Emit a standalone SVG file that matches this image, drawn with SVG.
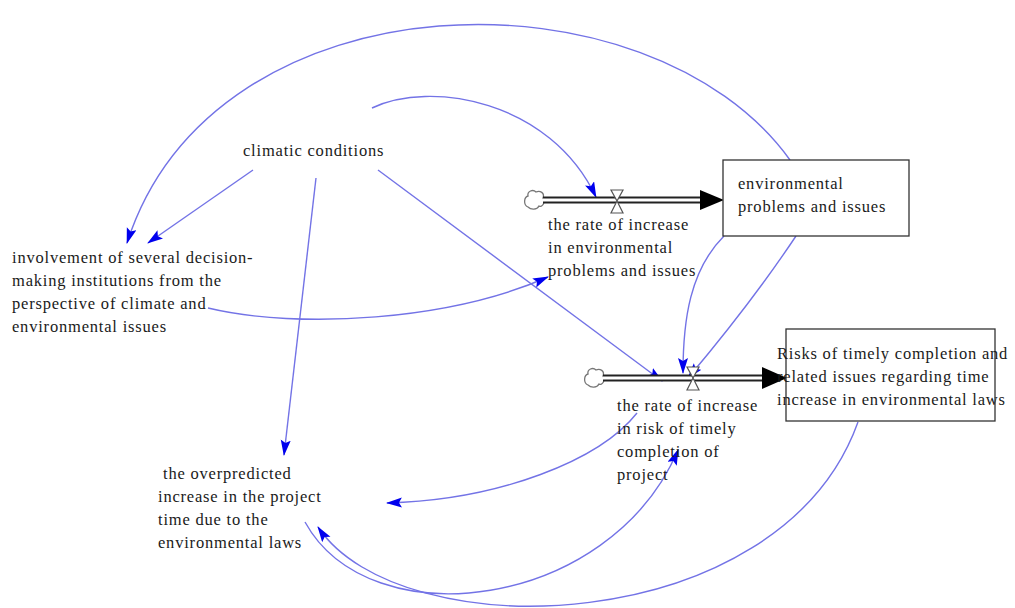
<svg xmlns="http://www.w3.org/2000/svg" width="1015" height="608" viewBox="0 0 1015 608">
<defs>
<style>
.t{font-family:"Liberation Serif","Times New Roman",serif;font-size:16.5px;letter-spacing:0.8px;fill:#1a1a1a}
.c{fill:none;stroke:#7373e6;stroke-width:1.4}
.stock{fill:#fff;stroke:#333;stroke-width:1.3}
.pipeO{stroke:#222;stroke-width:7;fill:none}
.pipeI{stroke:#fff;stroke-width:3;fill:none}
.cloud{fill:#fff;stroke:#777;stroke-width:1.3}
.valve{fill:#fff;stroke:#555;stroke-width:1.2}
</style>
<marker id="a" markerUnits="userSpaceOnUse" markerWidth="17" markerHeight="12" refX="15" refY="5" orient="auto">
<path d="M0,0 L16,5 L0,10 L3,5 Z" fill="#0000ee"/>
</marker>
</defs>
<rect width="1015" height="608" fill="#fff"/>

<g id="connectors">
<path class="c" marker-end="url(#a)" d="M790,160 C650,-35 215,-30 127,243"/>
<path class="c" marker-end="url(#a)" d="M253,170 L148,243"/>
<path class="c" marker-end="url(#a)" d="M372,108 C430,80 550,100 596,197"/>
<path class="c" marker-end="url(#a)" d="M378,170 L662,381"/>
<path class="c" marker-end="url(#a)" d="M316,178 L284,455"/>
<path class="c" marker-end="url(#a)" d="M208,308 C300,330 450,320 548,277"/>
<path class="c" marker-end="url(#a)" d="M724,236 C690,270 683,320 683,373"/>
<path class="c" marker-end="url(#a)" d="M796,236 C760,290 720,340 688,378"/>
<path class="c" marker-end="url(#a)" d="M637,413 C600,460 500,500 387,503"/>
<path class="c" marker-end="url(#a)" d="M305,522 C370,640 610,610 678,450"/>
<path class="c" marker-end="url(#a)" d="M858,422 C780,640 400,650 318,527"/>
</g>

<g id="climatic-conditions">
<text class="t" x="243" y="156">climatic conditions</text>
</g>

<g id="involvement">
<text class="t" x="12" y="263">involvement of several decision-</text>
<text class="t" x="12" y="286">making institutions from the</text>
<text class="t" x="12" y="309">perspective of climate and</text>
<text class="t" x="12" y="332">environmental issues</text>
</g>

<g id="overpredicted">
<text class="t" x="163" y="479">the overpredicted</text>
<text class="t" x="158" y="502">increase in the project</text>
<text class="t" x="158" y="525">time due to the</text>
<text class="t" x="158" y="548">environmental laws</text>
</g>

<g id="flow1">
<path class="cloud" d="M528,207 C523,205 524,197 528,196 C527,191 533,189 536,192 C540,190 545,193 543,198 C546,202 542,208 539,206 C537,210 531,210 528,207 Z"/>
<path class="pipeO" d="M543,200 L702,200"/>
<path class="pipeI" d="M543,200 L702,200"/>
<path d="M700,190 L724,200 L700,210 Z" fill="#000"/>
<path class="valve" d="M611,190 L623,190 L617,201 Z M611,213 L623,213 L617,201 Z"/>
<text class="t" x="548" y="230">the rate of increase</text>
<text class="t" x="548" y="253">in environmental</text>
<text class="t" x="548" y="276">problems and issues</text>
</g>

<g id="stock1">
<rect class="stock" x="723" y="160" width="186" height="76"/>
<text class="t" x="738" y="189">environmental</text>
<text class="t" x="738" y="212">problems and issues</text>
</g>

<g id="flow2">
<path class="cloud" d="M588,385 C583,383 584,375 588,374 C587,369 593,367 596,370 C600,368 605,371 603,376 C606,380 602,386 599,384 C597,388 591,388 588,385 Z"/>
<path class="pipeO" d="M603,378 L765,378"/>
<path class="pipeI" d="M603,378 L765,378"/>
<path d="M762,367 L787,378 L762,389 Z" fill="#000"/>
<path class="valve" d="M687,367 L699,367 L693,378 Z M687,390 L699,390 L693,378 Z"/>
<text class="t" x="617" y="411">the rate of increase</text>
<text class="t" x="617" y="434">in risk of timely</text>
<text class="t" x="617" y="457">completion of</text>
<text class="t" x="617" y="480">project</text>
</g>

<g id="stock2">
<rect class="stock" x="786" y="329" width="209" height="92"/>
<text class="t" x="777" y="359">Risks of timely completion and</text>
<text class="t" x="777" y="382">related issues regarding time</text>
<text class="t" x="777" y="405">increase in environmental laws</text>
</g>
</svg>
